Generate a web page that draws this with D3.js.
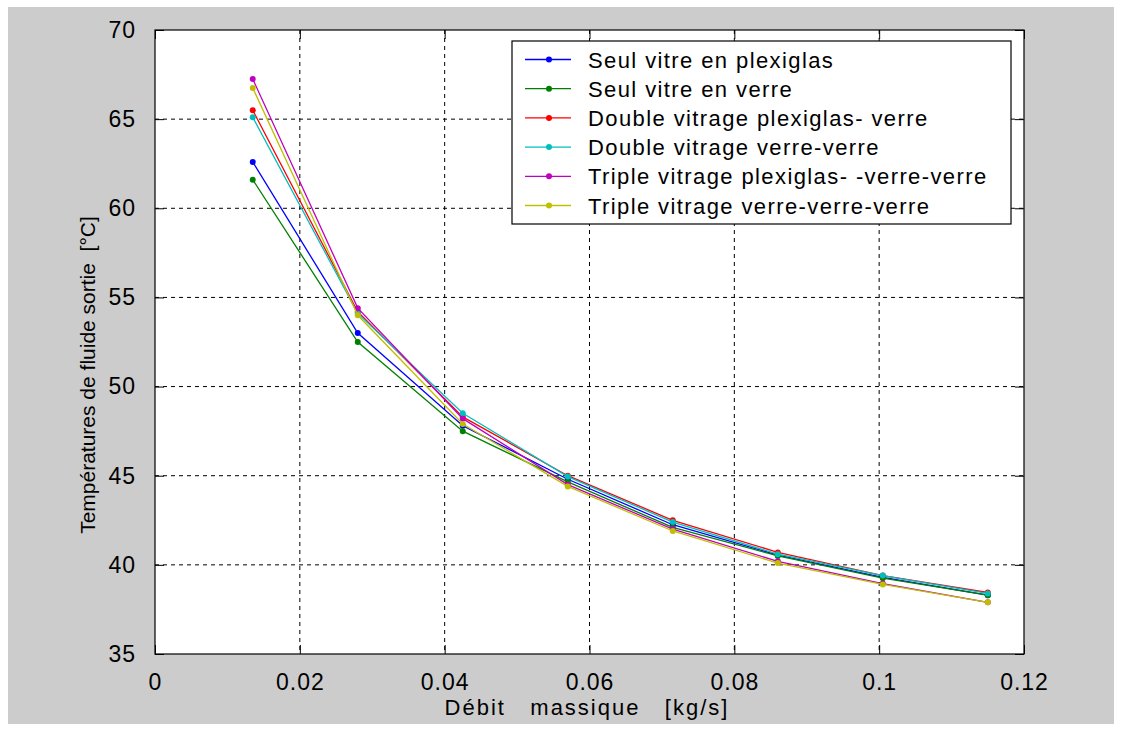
<!DOCTYPE html>
<html>
<head>
<meta charset="utf-8">
<script src="https://cdn.jsdelivr.net/npm/d3@7"></script>
<style>
  body { margin: 0; background: #fff; }
  text { font-family: "Liberation Sans", Arial, sans-serif; fill: #000; white-space: pre; }
</style>
</head>
<body>
<svg id="svg1"></svg>
<script>
    // Data
    const debit = [0.0135, 0.028, 0.0425, 0.057, 0.0715, 0.086, 0.1005, 0.115];
    const seulPlexi = [62.6, 53.0, 47.8, 44.8, 42.25, 40.55, 39.3, 38.3];
    const seulVerre = [61.6, 52.5, 47.5, 44.65, 42.1, 40.5, 39.25, 38.3];
    const doublePlexiVerre = [65.5, 54.2, 48.3, 45.0, 42.5, 40.7, 39.4, 38.45];
    const doubleVerre = [65.1, 54.1, 48.5, 44.95, 42.4, 40.6, 39.4, 38.4];
    const triplePlexi = [67.25, 54.4, 48.2, 44.5, 42.0, 40.2, 38.95, 37.9];
    const tripleVerre = [66.75, 54.0, 47.9, 44.4, 41.9, 40.1, 38.9, 37.9];
    const seriesNames = [
      "Seul vitre en plexiglas",
      "Seul vitre en verre",
      "Double vitrage plexiglas- verre",
      "Double vitrage verre-verre",
      "Triple vitrage plexiglas- -verre-verre",
      "Triple vitrage verre-verre-verre"
    ];
    const xTicks = [0, 0.02, 0.04, 0.06, 0.08, 0.1, 0.12];
    const yTicks = [35, 40, 45, 50, 55, 60, 65, 70];

    const colors = ["#0000ff", "#008000", "#ff0000", "#00bfbf", "#bf00bf", "#bfbf00"];
    const allSeries = [seulPlexi, seulVerre, doublePlexiVerre, doubleVerre, triplePlexi, tripleVerre];

    const W = 1122, H = 731;
    const margin = { top: 30, right: 98, bottom: 77, left: 155 },
          width = W - margin.left - margin.right,
          height = H - margin.top - margin.bottom;

    const root = d3.select("#svg1").attr("width", W).attr("height", H);

    // grey figure background
    root.append("rect").attr("x", 8).attr("y", 7).attr("width", W - 16).attr("height", H - 14)
      .attr("fill", "#cccccc");

    const svg = root.append("g").attr("transform", `translate(${margin.left},${margin.top})`);

    const x = d3.scaleLinear().domain([0, 0.12]).range([0, width]);
    const y = d3.scaleLinear().domain([35, 70]).range([height, 0]);

    svg.append("rect").attr("width", width).attr("height", height).attr("fill", "#fff");

    // grid
    svg.append("g").selectAll("line").data(xTicks.slice(1, -1)).join("line")
      .attr("x1", d => x(d)).attr("x2", d => x(d)).attr("y1", 0).attr("y2", height)
      .attr("stroke", "#000").attr("stroke-dasharray", "4,4");
    svg.append("g").selectAll("line").data(yTicks.slice(1, -1)).join("line")
      .attr("y1", d => y(d)).attr("y2", d => y(d)).attr("x1", 0).attr("x2", width)
      .attr("stroke", "#000").attr("stroke-dasharray", "4,4");

    // axes with inward ticks
    const fmt = d3.format("");
    const styleAxis = g => {
      g.select(".domain").remove();
      g.selectAll("line").attr("stroke", "#000");
      g.selectAll("text").attr("font-size", 23).style("letter-spacing", "1px")
        .attr("font-family", "Liberation Sans, Arial, sans-serif");
    };
    svg.append("g").attr("transform", `translate(0,${height})`)
      .call(d3.axisBottom(x).tickValues(xTicks).tickFormat(fmt).tickSizeInner(-9).tickSizeOuter(0).tickPadding(20))
      .call(styleAxis);
    svg.append("g")
      .call(d3.axisLeft(y).tickValues(yTicks).tickFormat(fmt).tickSizeInner(-9).tickSizeOuter(0).tickPadding(19))
      .call(styleAxis);
    svg.append("g")
      .call(d3.axisTop(x).tickValues(xTicks).tickFormat("").tickSizeInner(-9).tickSizeOuter(0))
      .call(styleAxis);
    svg.append("g").attr("transform", `translate(${width},0)`)
      .call(d3.axisRight(y).tickValues(yTicks).tickFormat("").tickSizeInner(-9).tickSizeOuter(0))
      .call(styleAxis);

    svg.append("rect").attr("width", width).attr("height", height)
      .attr("fill", "none").attr("stroke", "#000").attr("stroke-width", 1.2);

    // lines
    const line = d3.line().x((d, i) => x(debit[i])).y(d => y(d));
    allSeries.forEach((s, k) => {
      svg.append("path").datum(s).attr("d", line)
        .attr("fill", "none").attr("stroke", colors[k]).attr("stroke-width", 1.3);
      svg.append("g").selectAll("circle").data(s).join("circle")
        .attr("cx", (d, i) => x(debit[i])).attr("cy", d => y(d)).attr("r", 3)
        .attr("fill", colors[k]);
    });

    // axis titles
    svg.append("text").attr("x", 587 - margin.left).attr("y", height + 61)
      .attr("text-anchor", "middle").attr("font-size", 22).style("letter-spacing", "2px")
      .text("Débit   massique   [kg/s]");
    svg.append("text").attr("transform", `translate(${-60},${375 - margin.top}) rotate(-90)`)
      .attr("text-anchor", "middle").attr("font-size", 21).style("letter-spacing", "0px")
      .text("Températures de fluide sortie  [°C]");

    // legend
    const lg = svg.append("g").attr("transform", `translate(${512 - margin.left},${41 - margin.top})`);
    lg.append("rect").attr("width", 499).attr("height", 183)
      .attr("fill", "#fff").attr("stroke", "#000").attr("stroke-width", 1.2);
    seriesNames.forEach((name, k) => {
      const ry = 18.5 + k * 29.2;
      lg.append("line").attr("x1", 13).attr("x2", 59).attr("y1", ry).attr("y2", ry)
        .attr("stroke", colors[k]).attr("stroke-width", 1.3);
      lg.append("circle").attr("cx", 37).attr("cy", ry).attr("r", 3).attr("fill", colors[k]);
      lg.append("text").attr("x", 76).attr("y", ry + 8).attr("font-size", 22)
        .style("letter-spacing", "1.4px").text(name);
    });
</script>
</body>
</html>
